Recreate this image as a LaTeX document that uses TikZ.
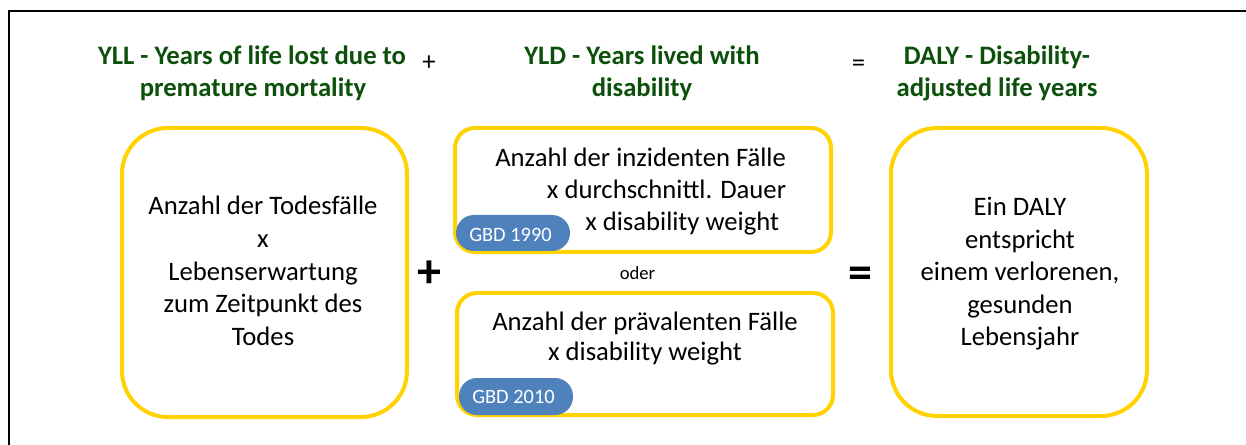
\documentclass[tikz,border=0pt]{standalone}
\usepackage{fontspec}
\setmainfont{Carlito}
\definecolor{ttl}{RGB}{12,80,12}
\definecolor{ylw}{RGB}{255,210,0}
\definecolor{pillc}{RGB}{79,129,189}
\begin{document}
\begin{tikzpicture}[x=0.75pt,y=-0.75pt,
  ybox/.style={draw=ylw, line width=3pt, fill=white, inner sep=0pt},
  ttlline/.style={font=\fontsize{20}{24}\selectfont\bfseries, text=ttl, anchor=base, inner sep=0pt},
  txt/.style={font=\fontsize{20}{24}\selectfont, anchor=base, inner sep=0pt},
  txtw/.style={txt, anchor=base west},
  pillbox/.style={fill=pillc, draw=none, rounded corners=13.5pt, inner sep=0pt},
  pilltxt/.style={font=\fontsize{15.3}{18}\selectfont, text=white, anchor=base, inner sep=0pt},
  opsmall/.style={font=\fontsize{20}{24}\selectfont, inner sep=0pt},
  opbig/.style={font=\fontsize{36}{40}\selectfont\bfseries, inner sep=0pt}
]
\useasboundingbox (0,0) rectangle (1246,445);
\fill[white] (0,0) rectangle (1246,445);
% frame
\draw[line width=1.75pt] (9,445) -- (9,11) -- (1246,11);

% titles
\node[ttlline] (t1a) at (252,65) {YLL - Years of life lost due to};
\node[ttlline] (t1b) at (253,97) {premature mortality};
\node[ttlline] (t2a) at (642,65) {YLD - Years lived with};
\node[ttlline] (t2b) at (642,97) {disability};
\node[ttlline] (t3a) at (997,65) {DALY - Disability-};
\node[ttlline] (t3b) at (997,97) {adjusted life years};
\node[opsmall] (plussmall) at (429,63.5) {+};
\node[opsmall] (eqsmall) at (858.5,66) {=};

% boxes
\node[ybox, minimum width=213.75pt, minimum height=216.75pt, rounded corners=34.5pt] (yllbox) at (264.5,272.5) {};
\node[ybox, minimum width=192pt, minimum height=216pt, rounded corners=34.5pt] (dalybox) at (1019,272) {};
\node[ybox, minimum width=282pt, minimum height=93pt, rounded corners=15pt] (yldtop) at (643,190) {};
\node[ybox, minimum width=282pt, minimum height=91.5pt, rounded corners=15pt] (yldbot) at (645,354) {};

% left box text
\node[txt] (l1) at (263,215) {Anzahl der Todesfälle};
\node[txt] (l2) at (263,247.6) {x};
\node[txt] (l3) at (263,280.2) {Lebenserwartung};
\node[txt] (l4) at (263,312.8) {zum Zeitpunkt des};
\node[txt] (l5) at (263,345.4) {Todes};

% right box text
\node[txt] (r1) at (1020,215.5) {Ein DALY};
\node[txt] (r2) at (1020,248.1) {entspricht};
\node[txt] (r3) at (1020,280.7) {einem verlorenen,};
\node[txt] (r4) at (1020,313.3) {gesunden};
\node[txt] (r5) at (1020,345.9) {Lebensjahr};

% middle top text
\node[txtw] (m1) at (495,166.7) {Anzahl der inzidenten Fälle};
\node[txtw] (m2) at (546.7,199) {x durchschnittl. Dauer};
\node[txtw] (m3) at (585,231) {x disability weight};

% oder
\node[font=\fontsize{14}{17}\selectfont, anchor=base, inner sep=0pt] (oder) at (637.5,279.3) {oder};

% middle bottom text
\node[txt] (b1) at (645,330.7) {Anzahl der prävalenten Fälle};
\node[txt] (b2) at (645,360) {x disability weight};

% pills
\node[pillbox, minimum width=85.5pt, minimum height=27pt] (gbd90) at (513,233) {};
\node[pilltxt] (gbd90t) at (510.5,241.5) {GBD 1990};
\node[pillbox, minimum width=85.5pt, minimum height=27.75pt] (gbd10) at (516,396.5) {};
\node[pilltxt] (gbd10t) at (513.5,403) {GBD 2010};

% operators
\node[opbig] (plusbig) at (429,274.5) {+};
\node[opbig] (eqbig) at (860,277.5) {=};
\end{tikzpicture}
\end{document}
